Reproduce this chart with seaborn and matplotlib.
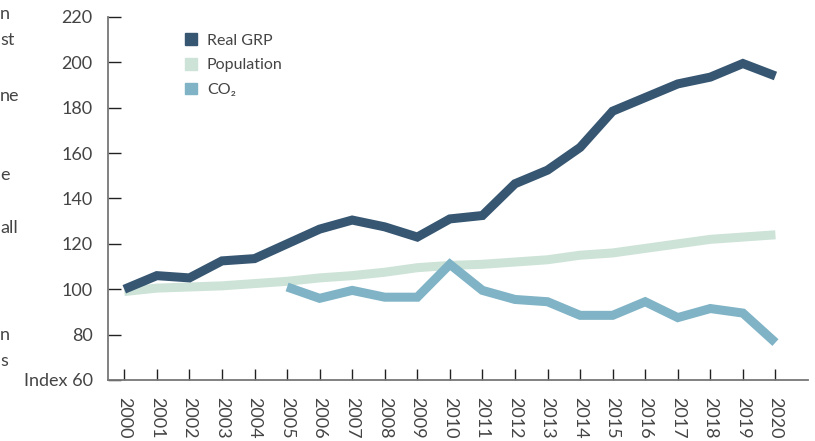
import numpy as np
import pandas as pd
import matplotlib
matplotlib.use('Agg')
import matplotlib.pyplot as plt
import matplotlib.patches as mpatches
import seaborn as sns

# ---- data (index, 2000 = 100) ----
years = list(range(2000, 2021))
real_grp = [100, 106, 105, 112.5, 113.5, 120, 126.5, 130.5, 127.5, 123, 131,
            132.5, 146.5, 152.5, 162.5, 178.5, 184.5, 190.5, 193.5, 199.5, 194]
population = [99, 100.5, 101, 101.5, 102.5, 103.5, 105, 106, 107.5, 109.5, 110.5,
              111, 112, 113, 115, 116, 118, 120, 122, 123, 124]
co2 = [np.nan, np.nan, np.nan, np.nan, np.nan, 101, 96, 99.5, 96.5, 96.5, 111,
       99.5, 95.5, 94.5, 88.5, 88.5, 94.5, 87.5, 91.5, 89.5, 76.5]
series_names = ['Real GRP', 'Population', 'CO\u2082']
colors = ['#365672', '#cde3d7', '#7fb3c5']
y_ticks = [60, 80, 100, 120, 140, 160, 180, 200, 220]
y_labels = ['Index 60', '80', '100', '120', '140', '160', '180', '200', '220']
side_text = [('n', 14), ('st', 40), ('ne', 96), ('e', 175), ('all', 228), ('n', 335), ('s', 361)]

df = pd.DataFrame({'year': years, 'Real GRP': real_grp,
                   'Population': population, 'CO\u2082': co2})

sns.set_style('white')
plt.rcParams['font.family'] = ['Lato', 'DejaVu Sans']
text_col = '#444444'

fig = plt.figure(figsize=(8.15, 4.41), dpi=100)
ax = fig.add_axes([108 / 815, 1 - 380 / 441, 700 / 815, 363 / 441])

# draw order: population underneath, then GRP, then CO2 on top
for name, z in [('Population', 2), ('Real GRP', 3), ('CO\u2082', 4)]:
    col = colors[series_names.index(name)]
    sns.lineplot(data=df.dropna(subset=[name]), x='year', y=name, ax=ax,
                 color=col, linewidth=6.5, zorder=z,
                 solid_capstyle='butt', solid_joinstyle='miter')

ax.set_xlim(1999.5, 2021)
ax.set_ylim(60, 220)
ax.set_xticks(years)
ax.set_xticklabels([str(y) for y in years], rotation=270, color=text_col, fontsize=13)
ax.set_yticks(y_ticks)
ax.set_yticklabels(y_labels, color=text_col, fontsize=13)
ax.set_xlabel('')
ax.set_ylabel('')

for s in ['top', 'right']:
    ax.spines[s].set_visible(False)
for s in ['left', 'bottom']:
    ax.spines[s].set_color('#777777')
    ax.spines[s].set_linewidth(1.3)

ax.tick_params(axis='y', direction='in', length=9, width=1, color='#222222', pad=11)
ax.tick_params(axis='x', direction='in', length=8, width=1, color='#222222', pad=12)
ax.tick_params(left=True, bottom=True)

handles = [mpatches.Patch(color=c, label=n) for n, c in zip(series_names, colors)]
ax.legend(handles=handles, loc='upper left', bbox_to_anchor=(0.09, 0.995),
          frameon=False, fontsize=11.5, handlelength=0.75, handleheight=0.75,
          handletextpad=0.6, labelspacing=0.65, labelcolor=text_col)

# cut-off text from the neighbouring column
for t, ypix in side_text:
    fig.text(0.0, 1 - ypix / 441, t, fontsize=13, color=text_col, va='center', ha='left')

fig.savefig('out.png', dpi=100)
